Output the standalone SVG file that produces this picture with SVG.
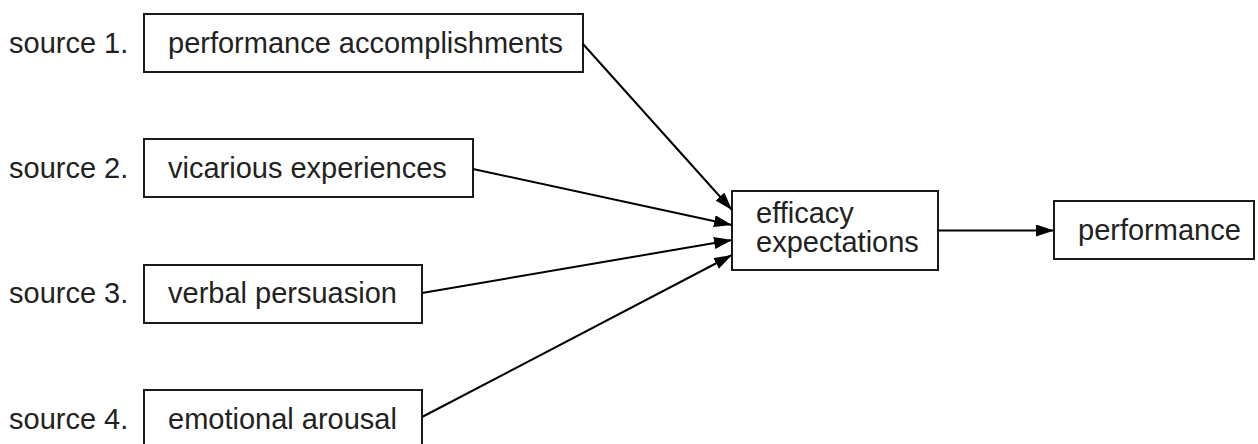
<svg xmlns="http://www.w3.org/2000/svg" width="1258" height="444" viewBox="0 0 1258 444">
<style>
  .box { fill: #fff; stroke: #1a1a1a; stroke-width: 2; }
  .t { font-family: "Liberation Sans", Arial, sans-serif; font-size: 29px; fill: #222; }
  .edge { stroke: #000; stroke-width: 2; fill: none; marker-end: url(#arr); }
</style>
<defs>
  <marker id="arr" markerUnits="userSpaceOnUse" markerWidth="20" markerHeight="14" refX="18" refY="6" orient="auto">
    <path d="M0,0 L18,6 L0,12 Z" fill="#000"/>
  </marker>
</defs>
<rect width="1258" height="444" fill="#fff"/>
<g id="label1"><text class="t" x="9" y="53">source 1.</text></g>
<g id="label2"><text class="t" x="9" y="178">source 2.</text></g>
<g id="label3"><text class="t" x="9" y="303">source 3.</text></g>
<g id="label4"><text class="t" x="9" y="429">source 4.</text></g>
<g id="n1"><rect class="box" x="144" y="14" width="439" height="58"/><text class="t" x="168" y="53">performance accomplishments</text></g>
<g id="n2"><rect class="box" x="144" y="139" width="329" height="58"/><text class="t" x="168" y="178">vicarious experiences</text></g>
<g id="n3"><rect class="box" x="144" y="265" width="278" height="58"/><text class="t" x="168" y="303">verbal persuasion</text></g>
<g id="n4"><rect class="box" x="144" y="390" width="278" height="58"/><text class="t" x="168" y="429">emotional arousal</text></g>
<g id="n5"><rect class="box" x="732" y="191" width="206" height="79"/><text class="t" x="756" y="223">efficacy</text><text class="t" x="756" y="252">expectations</text></g>
<g id="n6"><rect class="box" x="1054" y="201" width="200" height="58"/><text class="t" x="1078" y="240">performance</text></g>
<g id="connectors">
  <line class="edge" x1="583" y1="44" x2="732" y2="210"/>
  <line class="edge" x1="473" y1="169" x2="732" y2="225"/>
  <line class="edge" x1="422" y1="293" x2="732" y2="240"/>
  <line class="edge" x1="422" y1="417" x2="732" y2="255"/>
  <line class="edge" x1="938" y1="230.5" x2="1054" y2="230.5"/>
</g>
</svg>
